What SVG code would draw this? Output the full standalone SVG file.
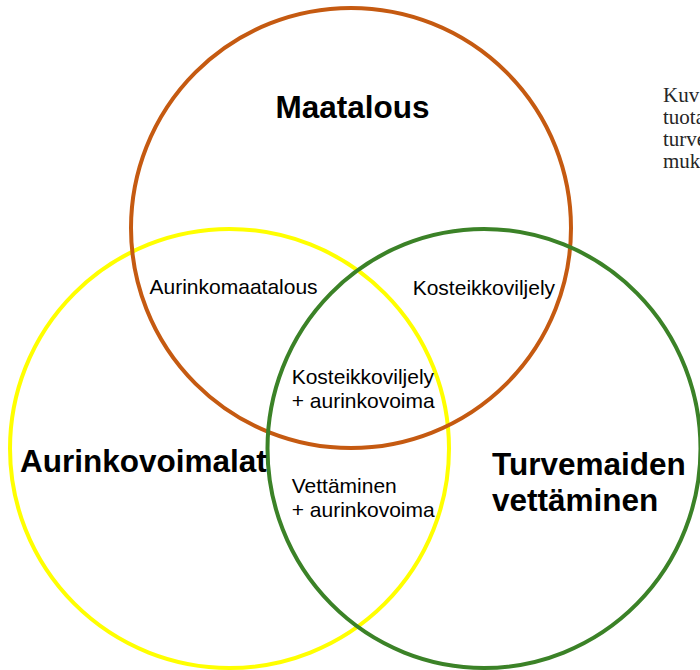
<svg xmlns="http://www.w3.org/2000/svg" width="700" height="670" viewBox="0 0 700 670">
  <style>
    .ring { fill: none; stroke-width: 4; }
    .title { font-family: "Liberation Sans", Arial, sans-serif; font-weight: bold; font-size: 31.5px; fill: #000; }
    .label { font-family: "Liberation Sans", Arial, sans-serif; font-size: 21px; fill: #000; }
    .side { font-family: "Liberation Serif", "Times New Roman", serif; font-size: 21px; fill: #262626; }
  </style>
  <rect width="700" height="670" fill="#ffffff"/>
  <g id="aurinkovoimalat">
    <ellipse class="ring" cx="229.5" cy="448.5" rx="219.5" ry="219.5" stroke="#FFFF00"/>
  </g>
  <g id="maatalous">
    <ellipse class="ring" cx="351" cy="228" rx="220" ry="220" stroke="#C55A11"/>
  </g>
  <g id="turvemaiden-vettaminen">
    <ellipse class="ring" cx="484" cy="448.5" rx="216.5" ry="219.5" stroke="#3B8227"/>
  </g>
  <g id="connectors"/>
  <g id="labels">
    <text class="title" x="352.5" y="118" text-anchor="middle">Maatalous</text>
    <text class="title" x="20" y="472">Aurinkovoimalat</text>
    <text class="title" x="492" y="475">Turvemaiden</text>
    <text class="title" x="492" y="511">vettäminen</text>
    <text class="label" x="149.5" y="294">Aurinkomaatalous</text>
    <text class="label" x="412.7" y="295">Kosteikkoviljely</text>
    <text class="label" x="291.7" y="384">Kosteikkoviljely</text>
    <text class="label" x="291.7" y="408">+ aurinkovoima</text>
    <text class="label" x="291.7" y="493">Vettäminen</text>
    <text class="label" x="291.7" y="517">+ aurinkovoima</text>
  </g>
  <g id="side-text">
    <text class="side" x="663" y="102">Kuv</text>
    <text class="side" x="663" y="124">tuota</text>
    <text class="side" x="663" y="146">turve</text>
    <text class="side" x="663" y="168">muk</text>
  </g>
</svg>
